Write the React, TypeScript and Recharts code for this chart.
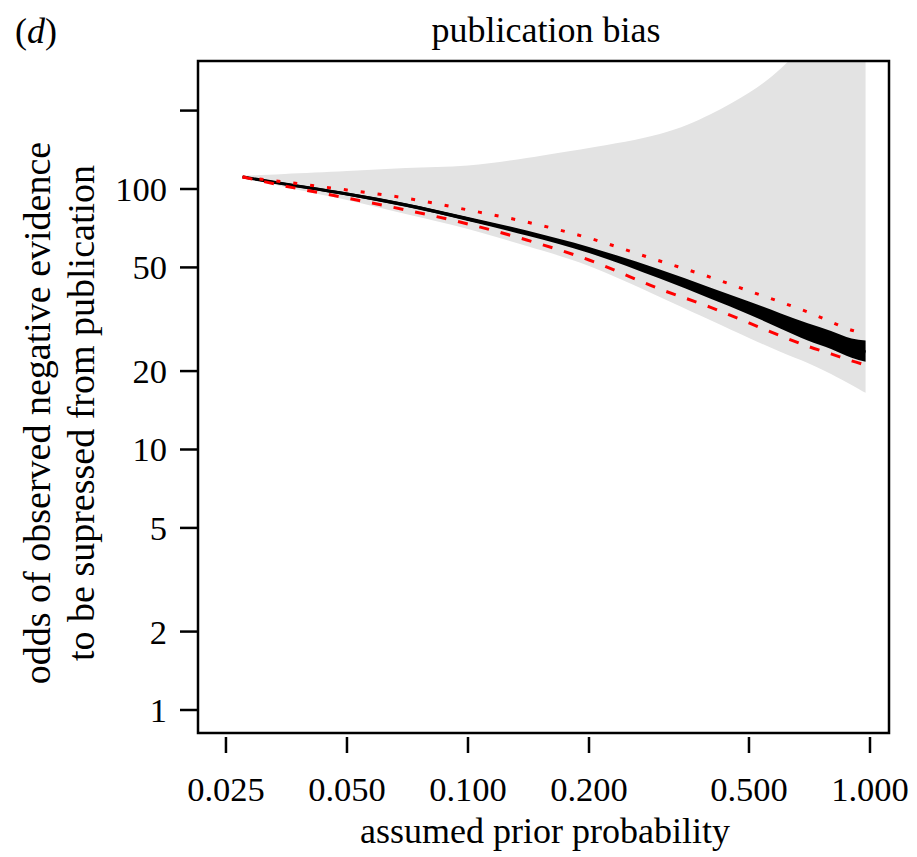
import React from "react";
import { ComposedChart, Area, Line, XAxis, YAxis, ReferenceArea } from "recharts";

const priorProb = [0.0275, 0.035, 0.05, 0.07, 0.1, 0.14, 0.2, 0.3, 0.4, 0.5, 0.6, 0.7, 0.8, 0.9, 0.975];
const grayUpper = [112.2, 114.2, 117.2, 120.4, 123.2, 131.5, 143.7, 162.6, 193, 234, 290, 370, 461, 570, 658];
const grayLower = [111.2, 101.8, 90.7, 80.2, 70.2, 60.4, 50.6, 38.5, 31.4, 26.8, 23.7, 21.5, 19.5, 17.7, 16.5];
const blackUpper = [112.2, 105.6, 96.9, 88.2, 78.1, 69.3, 59.9, 49.1, 41.9, 37.0, 33.3, 30.5, 28.5, 26.7, 26.2];
const blackLower = [110.2, 103.4, 94.4, 85.4, 75.4, 66.3, 56.8, 45.3, 38.0, 33.0, 29.1, 26.2, 24.3, 22.5, 21.7];
const blackMid = [111.2, 104.5, 95.7, 86.8, 76.7, 67.8, 58.3, 47.2, 39.9, 34.9, 31.1, 28.3, 26.3, 24.5, 23.7];
const redDotted = [111.2, 106.4, 99.1, 92.3, 83.1, 74.7, 64.8, 52.9, 45.9, 40.6, 36.8, 33.7, 30.9, 28.7, 27.8];
const redDashed = [111.2, 102.7, 92.3, 83.1, 73.4, 63.7, 53.4, 41.3, 35.2, 30.6, 27.3, 24.9, 23.3, 21.9, 21.1];

const xTicks = [0.025, 0.05, 0.1, 0.2, 0.5, 1.0];
const yTicks = [1, 2, 5, 10, 20, 50, 100, 200];
const yTickLabels = ["1", "2", "5", "10", "20", "50", "100", ""];

const X_DOMAIN: [number, number] = [0.0213, 1.115];
const Y_DOMAIN: [number, number] = [0.816, 310];

const FONT = '"Liberation Serif", "Times New Roman", serif';
const TICK_FS = 34.5;

const data = priorProb.map((p, i) => ({
  p,
  gray: [grayLower[i], grayUpper[i]],
  black: [blackLower[i], blackUpper[i]],
  mid: blackMid[i],
  dotted: redDotted[i],
  dashed: redDashed[i],
}));

const XTick = (props: any) => {
  const { x, y, payload } = props;
  return (
    <g>
      <line x1={x} x2={x} y1={y + 4} y2={y + 20} stroke="#000" strokeWidth={2.5} />
      <text x={x} y={y + 68} textAnchor="middle" fontFamily={FONT} fontSize={TICK_FS} fill="#000">
        {Number(payload.value).toFixed(3)}
      </text>
    </g>
  );
};

const YTick = (props: any) => {
  const { x, y, payload } = props;
  const idx = yTicks.indexOf(payload.value);
  return (
    <g>
      <line x1={x - 18} x2={x} y1={y} y2={y} stroke="#000" strokeWidth={2.5} />
      <text x={x - 31} y={y + 12} textAnchor="end" fontFamily={FONT} fontSize={TICK_FS} fill="#000">
        {idx >= 0 ? yTickLabels[idx] : ""}
      </text>
    </g>
  );
};

export default function App() {
  return (
    <div style={{ position: "relative", width: 909, height: 849 }}>
      <ComposedChart width={909} height={849} data={data} margin={{ top: 53, right: 28, bottom: 123, left: 189 }}>
        <XAxis
          dataKey="p"
          type="number"
          scale="log"
          domain={X_DOMAIN}
          allowDataOverflow
          ticks={xTicks}
          tick={<XTick />}
          tickLine={false}
          axisLine={false}
          tickSize={0}
          tickMargin={0}
          height={1}
          interval={0}
        />
        <YAxis
          type="number"
          scale="log"
          domain={Y_DOMAIN}
          allowDataOverflow
          ticks={yTicks}
          tick={<YTick />}
          tickLine={false}
          axisLine={false}
          tickSize={0}
          tickMargin={0}
          width={1}
          interval={0}
        />
        <Area dataKey="gray" type="natural" stroke="none" fill="#e3e3e3" fillOpacity={1} isAnimationActive={false} />
        <Area dataKey="black" type="monotone" stroke="none" fill="#000" fillOpacity={1} isAnimationActive={false} />
        <Line dataKey="mid" type="monotone" stroke="#000" strokeWidth={3} dot={false} isAnimationActive={false} />
        <Line dataKey="dotted" type="monotone" stroke="#ff0000" strokeWidth={3} strokeDasharray="4 13" dot={false} isAnimationActive={false} />
        <Line dataKey="dashed" type="monotone" stroke="#ff0000" strokeWidth={3} strokeDasharray="10 12" dot={false} isAnimationActive={false} />
        <ReferenceArea x1={X_DOMAIN[0]} x2={X_DOMAIN[1]} y1={Y_DOMAIN[0]} y2={Y_DOMAIN[1]} fill="none" stroke="#000" strokeWidth={2.5} ifOverflow="visible" />
      </ComposedChart>
      <svg
        width={909}
        height={849}
        style={{ position: "absolute", left: 0, top: 0, pointerEvents: "none" }}
        fontFamily={FONT}
        fill="#000"
      >
        <text x={7} y={35} fontSize={36}>
          (<tspan fontStyle="italic">d</tspan>)
        </text>
        <text x={538} y={34} fontSize={36} textAnchor="middle">
          publication bias
        </text>
        <text x={537} y={835} fontSize={36} textAnchor="middle">
          assumed prior probability
        </text>
        <text x={42} y={405} fontSize={38} textAnchor="middle" transform="rotate(-90 42 405)">
          odds of observed negative evidence
        </text>
        <text x={86} y={405} fontSize={38} textAnchor="middle" transform="rotate(-90 86 405)">
          to be supressed from publication
        </text>
      </svg>
    </div>
  );
}
